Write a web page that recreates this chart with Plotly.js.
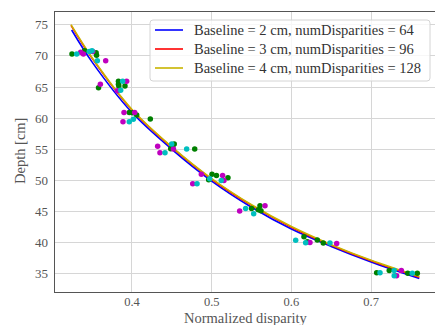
<!DOCTYPE html>
<html>
<head>
<meta charset="utf-8">
<script src="https://cdn.plot.ly/plotly-3.0.1.min.js"></script>
<style>html,body{margin:0;padding:0;overflow:hidden;background:#fff}</style>
</head>
<body>
<div id="chart" style="width:437px;height:325px"></div>
<script>
const curveX = [0.3235, 0.35, 0.4, 0.45, 0.5, 0.55, 0.6, 0.65, 0.7, 0.7605];
const blueX  = [0.3243, 0.35, 0.4, 0.45, 0.5, 0.55, 0.6, 0.65, 0.7, 0.7605];
const depthB2 = [74.15, 69.0, 60.9, 55.0, 49.9, 45.7, 42.2, 39.4, 36.9, 34.25];
const depthB3 = [74.9, 69.6, 61.3, 55.3, 50.2, 46.0, 42.5, 39.6, 37.1, 34.45];
const depthB4 = [75.0, 69.7, 61.4, 55.4, 50.3, 46.1, 42.6, 39.7, 37.2, 34.6];
const seriesNames = [
  "Baseline = 2 cm, numDisparities = 64",
  "Baseline = 3 cm, numDisparities = 96",
  "Baseline = 4 cm, numDisparities = 128"
];
const seriesColors = ['#0000ff', '#ff0000', '#c9b400'];
const greenX = [0.3247,0.3406,0.3550,0.3555,0.3580,0.3830,0.3830,0.3835,0.3912,0.3966,0.4005,0.4059,0.4230,0.4486,0.4510,0.4530,0.4787,0.4962,0.5004,0.5060,0.5204,0.5500,0.5606,0.5585,0.5618,0.6158,0.6200,0.6325,0.6400,0.7070,0.7228,0.7460,0.7580];
const greenY = [70.3,70.83,70.5,70.1,64.9,65.92,65.45,65.15,65.17,60.91,60.85,60.51,59.85,55.1,55.5,55.85,55.05,50.1,51.0,50.8,50.45,45.5,45.95,45.3,45.15,40.95,40.15,40.45,39.95,35.2,35.55,35.1,35.1];
const magentaX = [0.3356,0.3390,0.3507,0.3670,0.3603,0.3816,0.3933,0.3887,0.3900,0.4034,0.4322,0.4351,0.4520,0.4762,0.4870,0.5137,0.5154,0.5351,0.5669,0.6233,0.6568,0.7320,0.7380];
const magentaY = [70.57,70.3,70.7,69.22,65.44,64.41,65.92,59.44,60.9,60.91,55.5,54.45,55.05,49.46,51.0,50.8,50.0,45.1,45.95,40.05,39.9,34.7,35.55];
const cyanX = [0.3306,0.3464,0.3498,0.3565,0.3858,0.3883,0.3966,0.4017,0.4414,0.4498,0.4686,0.4816,0.4975,0.5120,0.5426,0.5527,0.6054,0.6179,0.6484,0.7112,0.7290,0.7290,0.7517];
const cyanY = [70.3,70.7,70.83,69.22,64.5,65.92,59.44,59.82,54.45,55.85,55.05,49.46,50.28,50.0,45.5,44.65,40.4,40.0,39.95,35.2,35.55,34.7,35.1];
const xTicks = [0.4, 0.5, 0.6, 0.7];
const yTicks = [35, 40, 45, 50, 55, 60, 65, 70, 75];
const xTitle = 'Normalized disparity';
const yTitle = 'Depth [cm]';

const fontFam = "Liberation Serif";
const W = 437, H = 325, ML = 55, MR = 0, MT = 12, MB = 33;
const PW = W - ML - MR, PH = H - MT - MB;
const px = v => (v - ML) / PW;          // pixel x -> paper
const py = v => (H - MB - v) / PH;      // pixel y -> paper

function line(x, y, color, name) {
  return {x: x, y: y, type: 'scatter', mode: 'lines', name: name, showlegend: false,
    line: {color: color, width: 1.6, shape: 'spline', smoothing: 1.0}, hoverinfo: 'skip'};
}
function pts(x, y, color) {
  return {x: x, y: y, type: 'scatter', mode: 'markers', showlegend: false,
    marker: {color: color, size: 5.5}, hoverinfo: 'skip'};
}
const data = [
  line(blueX, depthB2, seriesColors[0], seriesNames[0]),
  line(curveX, depthB3, seriesColors[1], seriesNames[1]),
  line(curveX, depthB4, seriesColors[2], seriesNames[2]),
  pts(greenX, greenY, '#008000'),
  pts(magentaX, magentaY, '#bf00bf'),
  pts(cyanX, cyanY, '#00bfbf')
];

// legend box (rounded) drawn as shapes + annotations
const bx0 = px(150), bx1 = px(430), by0 = py(20), by1 = py(81);
const rx = 3 / PW, ry = 3 / PH;
const boxPath = `M ${bx0+rx},${by0} L ${bx1-rx},${by0} Q ${bx1},${by0} ${bx1},${by0-ry} L ${bx1},${by1+ry} Q ${bx1},${by1} ${bx1-rx},${by1} L ${bx0+rx},${by1} Q ${bx0},${by1} ${bx0},${by1+ry} L ${bx0},${by0-ry} Q ${bx0},${by0} ${bx0+rx},${by0} Z`;
const shapes = [{type: 'path', xref: 'paper', yref: 'paper', path: boxPath,
  fillcolor: 'rgba(255,255,255,0.8)', line: {color: '#d4d4d4', width: 1}}];
const annotations = [];
const rowY = [30, 49, 68];
seriesNames.forEach((n, i) => {
  shapes.push({type: 'line', xref: 'paper', yref: 'paper', x0: px(155), x1: px(183), y0: py(rowY[i]), y1: py(rowY[i]),
    line: {color: seriesColors[i], width: 1.6}});
  annotations.push({xref: 'paper', yref: 'paper', x: px(192), y: py(rowY[i]), xanchor: 'left', yanchor: 'middle',
    text: n, showarrow: false, font: {family: fontFam, size: 14.5, color: '#333'}});
});
annotations.push({xref: 'paper', yref: 'paper', x: 0.5, y: py(317.5), xanchor: 'center', yanchor: 'middle',
  text: xTitle, showarrow: false, borderpad: 0, font: {family: fontFam, size: 14.5, color: '#555'}});
annotations.push({xref: 'paper', yref: 'paper', x: px(20), y: py(151), xanchor: 'center', yanchor: 'middle',
  text: yTitle, textangle: -90, showarrow: false, font: {family: fontFam, size: 14.5, color: '#555'}});

const layout = {
  width: W, height: H,
  margin: {l: ML, r: MR, t: MT, b: MB},
  paper_bgcolor: '#fff', plot_bgcolor: '#fff',
  font: {family: fontFam, size: 13, color: '#444'},
  showlegend: false,
  shapes: shapes, annotations: annotations,
  xaxis: {range: [0.3034, 0.7827], tickvals: xTicks, ticktext: xTicks.map(v => v.toFixed(1)),
    showgrid: true, gridcolor: '#d6d6d6', gridwidth: 1, zeroline: false,
    showline: true, linecolor: '#555', linewidth: 1.3, mirror: true, ticks: '',
    ticklabelstandoff: -2,
    tickfont: {family: fontFam, size: 12.5, color: '#555'}},
  yaxis: {range: [32.1, 77.04], tickvals: yTicks, showgrid: true, gridcolor: '#d6d6d6', gridwidth: 1,
    zeroline: false, showline: true, linecolor: '#555', linewidth: 1.3, mirror: true, ticks: '',
    ticklabelstandoff: 3,
    tickfont: {family: fontFam, size: 13, color: '#555'}}
};
Plotly.newPlot('chart', data, layout, {displayModeBar: false, staticPlot: true});
</script>
</body>
</html>
